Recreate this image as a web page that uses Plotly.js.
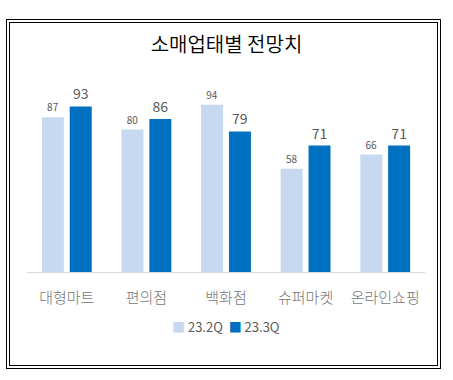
<!DOCTYPE html>
<html>
<head>
<meta charset="utf-8">
<script src="https://cdn.plot.ly/plotly-3.0.1.min.js"></script>
<style>
  html, body { margin: 0; padding: 0; background: #fff; }
  #wrap { position: relative; width: 453px; height: 380px; }
  #chart { position: absolute; left: 0; top: 0; width: 453px; height: 380px; }
  .frame { position: absolute; border: 1px solid #000; pointer-events: none; box-sizing: border-box; }
</style>
</head>
<body>
<div id="wrap">
  <div id="chart"></div>
  <div class="frame" style="left:6px; top:19px; width:435px; height:350px;"></div>
  <div class="frame" style="left:9px; top:22px; width:429px; height:344px;"></div>
</div>
<script>
const categories = ['대형마트', '편의점', '백화점', '슈퍼마켓', '온라인쇼핑'];
const seriesNames = ['23.2Q', '23.3Q'];
const seriesColors = ['#C6D9F0', '#0070C0'];
const values2Q = [87, 80, 94, 58, 66];
const values3Q = [93, 86, 79, 71, 71];

const FONT = '"Noto Sans CJK KR", "Noto Sans", sans-serif';

const traces = [
  {
    type: 'bar', name: seriesNames[0], x: categories, y: values2Q,
    marker: { color: seriesColors[0] },
    text: values2Q.map(String), textposition: 'outside', cliponaxis: false,
    textfont: { size: 10, color: '#595959', family: FONT },
    hoverinfo: 'none'
  },
  {
    type: 'bar', name: seriesNames[1], x: categories, y: values3Q,
    marker: { color: seriesColors[1] },
    text: values3Q.map(String), textposition: 'outside', cliponaxis: false,
    textfont: { size: 14, color: '#595959', family: FONT },
    hoverinfo: 'none'
  }
];

const legendText = seriesNames
  .map((n, i) => '<span style="color:' + seriesColors[i] + '">■</span> ' + n)
  .join('  ');

const layout = {
  width: 453, height: 380,
  margin: { l: 27, r: 28, t: 93.5, b: 108, pad: 0 },
  paper_bgcolor: '#fff', plot_bgcolor: '#fff',
  font: { family: FONT, color: '#595959' },
  title: {
    text: '소매업태별 전망치',
    font: { size: 20, color: '#000', family: FONT, weight: 350 },
    x: 0.5, xanchor: 'center', xref: 'container',
    y: 1 - 45 / 380, yanchor: 'middle', yref: 'container'
  },
  barmode: 'group', bargap: 0.3, bargroupgap: 0.21,
  xaxis: {
    showline: true, linecolor: '#D9D9D9', linewidth: 1,
    ticks: '', showgrid: false, zeroline: false,
    tickfont: { size: 15, color: '#767676', family: FONT, weight: 300 },
    ticklabelstandoff: 12, fixedrange: true
  },
  yaxis: { visible: false, range: [0, 100], fixedrange: true },
  showlegend: false,
  annotations: [{
    text: legendText, showarrow: false,
    xref: 'paper', yref: 'paper', x: 0.5, xanchor: 'center',
    y: -0.308, yanchor: 'middle',
    font: { size: 13, color: '#595959', family: FONT }
  }]
};

Plotly.newPlot('chart', traces, layout, { displayModeBar: false, staticPlot: true });
</script>
</body>
</html>
